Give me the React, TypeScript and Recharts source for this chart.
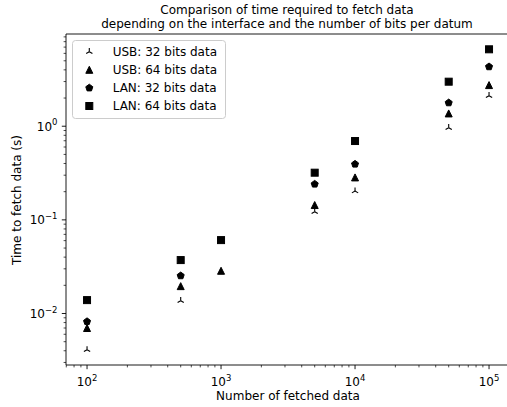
import { ScatterChart, Scatter, XAxis, YAxis, Legend } from "recharts";

// number of fetched data points (x) and fetch times in seconds (y)
const fetched = [100, 500, 1000, 5000, 10000, 50000, 100000];
const usb32 = [0.0041, 0.0137, null, 0.122, 0.203, 0.964, 2.12];
const usb64 = [0.007, 0.0196, 0.0286, 0.144, 0.284, 1.37, 2.75];
const lan32 = [0.0082, 0.0253, null, 0.241, 0.394, 1.78, 4.32];
const lan64 = [0.0139, 0.0372, 0.0608, 0.319, 0.695, 2.99, 6.63];

const seriesNames = ["USB: 32 bits data", "USB: 64 bits data", "LAN: 32 bits data", "LAN: 64 bits data"];

const xMajor = [100, 1000, 10000, 100000];
const yMajor = [0.01, 0.1, 1];

const xDomain = [Math.pow(10, 1.843), Math.pow(10, 5.149)];
const yDomain = [Math.pow(10, -2.55), Math.pow(10, 0.985)];

const FONT = "DejaVu Sans, sans-serif";
const FS = 12;

function withMinors(domain: number[]) {
  const out: number[] = [];
  const lo = Math.floor(Math.log10(domain[0]));
  const hi = Math.ceil(Math.log10(domain[1]));
  for (let e = lo; e <= hi; e++) {
    for (let m = 1; m <= 9; m++) {
      const v = m === 1 ? Math.pow(10, e) : m * Math.pow(10, e);
      if (v >= domain[0] && v <= domain[1]) out.push(v);
    }
  }
  return out;
}

const xTicks = withMinors(xDomain);
const yTicks = withMinors(yDomain);

const isMajor = (v: number, majors: number[]) => majors.some((m) => Math.abs(m - v) / m < 1e-6);

function expLabel(v: number) {
  const e = Math.round(Math.log10(v));
  return e < 0 ? "\u2212" + Math.abs(e) : String(e);
}

function XTick({ x, y, payload }: any) {
  const major = isMajor(payload.value, xMajor);
  return (
    <g>
      <line x1={x} x2={x} y1={y} y2={y + (major ? 4.2 : 2.4)} stroke="#000" strokeWidth={major ? 0.9 : 0.7} />
      {major && (
        <text x={x} y={y + 21} textAnchor="middle" fontSize={FS} fontFamily={FONT} fill="#000">
          10<tspan dy={-5.5} fontSize={8.5}>{expLabel(payload.value)}</tspan>
        </text>
      )}
    </g>
  );
}

function YTick({ x, y, payload }: any) {
  const major = isMajor(payload.value, yMajor);
  return (
    <g>
      <line x1={x} x2={x - (major ? 4.2 : 2.4)} y1={y} y2={y} stroke="#000" strokeWidth={major ? 0.9 : 0.7} />
      {major && (
        <text x={x - 8.5} y={y + 4.5} textAnchor="end" fontSize={FS} fontFamily={FONT} fill="#000">
          10<tspan dy={-5.5} fontSize={8.5}>{expLabel(payload.value)}</tspan>
        </text>
      )}
    </g>
  );
}

function triUp(cx: number, cy: number) {
  const r = 3.6;
  return (
    <g stroke="#000" strokeWidth={1.1}>
      <line x1={cx} y1={cy} x2={cx} y2={cy - r} />
      <line x1={cx} y1={cy} x2={cx - r * 0.866} y2={cy + r * 0.5} />
      <line x1={cx} y1={cy} x2={cx + r * 0.866} y2={cy + r * 0.5} />
    </g>
  );
}

function triangle(cx: number, cy: number) {
  const h = 3.5;
  return <polygon points={`${cx},${cy - h} ${cx - h},${cy + h} ${cx + h},${cy + h}`} fill="#000" stroke="#000" strokeWidth={1} />;
}

function pentagon(cx: number, cy: number) {
  const r = 3.7;
  const pts = [0, 1, 2, 3, 4]
    .map((k) => {
      const a = -Math.PI / 2 + (k * 2 * Math.PI) / 5;
      return `${cx + r * Math.cos(a)},${cy + r * Math.sin(a)}`;
    })
    .join(" ");
  return <polygon points={pts} fill="#000" stroke="#000" strokeWidth={1} />;
}

function square(cx: number, cy: number) {
  const s = 3.5;
  return <rect x={cx - s} y={cy - s} width={2 * s} height={2 * s} fill="#000" stroke="#000" strokeWidth={1} />;
}

const markers = [triUp, triangle, pentagon, square];
const seriesValues = [usb32, usb64, lan32, lan64];

const toPoints = (vals: (number | null)[]) =>
  fetched.map((x, i) => ({ x, y: vals[i] })).filter((d) => d.y !== null);

function LegendBox() {
  return (
    <svg width={156} height={81} style={{ display: "block" }}>
      <rect x={0.5} y={0.5} width={153} height={78} rx={3} fill="#fff" fillOpacity={0.8} stroke="#cccccc" />
      {seriesNames.map((name, i) => {
        const cy = 11.7 + i * 18.1;
        return (
          <g key={name}>
            {markers[i](17.3, cy)}
            <text x={40.7} y={cy + 4.3} fontSize={FS} fontFamily={FONT} fill="#000">
              {name}
            </text>
          </g>
        );
      })}
    </svg>
  );
}

export default function App() {
  return (
    <div style={{ position: "absolute", left: 0, top: 0, width: 507, height: 407, overflow: "hidden", background: "#fff" }}>
      <ScatterChart width={510} height={407} margin={{ top: 33, right: 1, bottom: 2, left: 16 }}>
        <XAxis
          xAxisId="b"
          dataKey="x"
          type="number"
          scale="log"
          domain={xDomain}
          allowDataOverflow
          ticks={xTicks}
          interval={0}
          tickSize={0}
          tickMargin={0}
          tick={XTick}
          tickLine={false}
          height={40}
          axisLine={{ stroke: "#000", strokeWidth: 0.9 }}
          label={{
            content: () => (
              <text x={288} y={400} textAnchor="middle" fontSize={FS} fontFamily={FONT} fill="#000">
                Number of fetched data
              </text>
            ),
          }}
        />
        <XAxis
          xAxisId="t"
          orientation="top"
          type="number"
          scale="log"
          domain={xDomain}
          allowDataOverflow
          tick={false}
          tickLine={false}
          height={1}
          axisLine={{ stroke: "#000", strokeWidth: 0.9 }}
          label={{
            content: () => (
              <text textAnchor="middle" fontSize={FS} fontFamily={FONT} fill="#000">
                <tspan x={287} y={14}>Comparison of time required to fetch data</tspan>
                <tspan x={287} y={27.5}>depending on the interface and the number of bits per datum</tspan>
              </text>
            ),
          }}
        />
        <YAxis
          yAxisId="l"
          dataKey="y"
          type="number"
          scale="log"
          domain={yDomain}
          allowDataOverflow
          ticks={yTicks}
          interval={0}
          tickSize={0}
          tickMargin={0}
          tick={YTick}
          tickLine={false}
          width={50}
          axisLine={{ stroke: "#000", strokeWidth: 0.9 }}
          label={{
            content: () => (
              <text x={21} y={200} transform="rotate(-90 21 200)" textAnchor="middle" fontSize={FS} fontFamily={FONT} fill="#000">
                Time to fetch data (s)
              </text>
            ),
          }}
        />
        {seriesValues.map((vals, i) => (
          <Scatter
            key={seriesNames[i]}
            name={seriesNames[i]}
            xAxisId="b"
            yAxisId="l"
            data={toPoints(vals)}
            isAnimationActive={false}
            shape={(p: any) => markers[i](p.cx, p.cy)}
          />
        ))}
        <Legend
          layout="horizontal"
          align="center"
          verticalAlign="middle"
          wrapperStyle={{ left: 72, top: 40, width: 156, height: 81 }}
          content={() => <LegendBox />}
        />
      </ScatterChart>
    </div>
  );
}
